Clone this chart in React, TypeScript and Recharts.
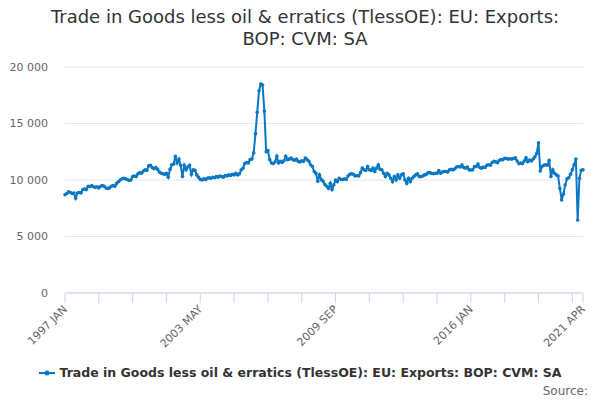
import { LineChart, Line, XAxis, YAxis, CartesianGrid } from 'recharts';

const MONTHS = ['JAN', 'FEB', 'MAR', 'APR', 'MAY', 'JUN', 'JUL', 'AUG', 'SEP', 'OCT', 'NOV', 'DEC'];

const START_YEAR = 1997;

// monthly values, £ million, one row per year (2021 ends at APR)
const exportValues = [
  8700, 8800, 8950, 8900, 8800, 8850, 8380, 8850, 8900, 8850, 9150, 9200,
  9150, 9450, 9400, 9500, 9400, 9350, 9400, 9300, 9450, 9500, 9450, 9300,
  9250, 9300, 9450, 9500, 9450, 9700, 9850, 10000, 10100, 10150, 10100, 10050,
  9950, 10000, 10300, 10350, 10300, 10550, 10650, 10600, 10800, 10900, 10850, 11250,
  11300, 11100, 11000, 11100, 10950, 10700, 10600, 10550, 10500, 10600, 10250, 10950,
  11350, 11400, 12100, 11500, 11850, 11300, 10300, 11300, 10900, 11150, 11300, 10500,
  10900, 10850, 10450, 10250, 10050, 10000, 10100, 10050, 10150, 10200, 10150, 10250,
  10200, 10300, 10250, 10350, 10300, 10250, 10400, 10350, 10450, 10400, 10500, 10450,
  10600, 10450, 10550, 10900, 11050, 11450, 11550, 11500, 11800, 11850, 12400, 14100,
  16000, 17900, 18500, 18400, 16100, 12500, 12600, 11800, 11500, 11450, 11600, 12100,
  11500, 11650, 11550, 11700, 12100, 11800, 11850, 11950, 11800, 11750, 11850, 11650,
  11600, 11700, 11650, 11950, 11800, 11650, 11350, 11200, 10750, 10600, 9880, 10450,
  10030, 9880, 9600, 9450, 9250, 9700, 9150, 9550, 10000, 9850, 10150, 10050,
  10050, 10100, 10050, 10350, 10500, 10550, 10500, 10350, 10400, 10350, 10650, 11050,
  10900, 10850, 11200, 10900, 10850, 11050, 10750, 11050, 11350, 10950, 10900, 10600,
  10300, 10600, 10450, 10150, 9850, 10300, 10000, 10450, 10150, 10450, 10550, 10000,
  9700, 10150, 9850, 10150, 10300, 10450, 10550, 10300, 10300, 10350, 10450, 10500,
  10650, 10650, 10600, 10550, 10600, 10600, 10830, 10600, 10700, 10750, 10750, 10700,
  10900, 10950, 10900, 11000, 11150, 11200, 11150, 11330, 11100, 11050, 11150, 10900,
  10880, 10900, 11180, 11200, 11420, 11100, 11050, 11150, 11100, 11300, 11350, 11300,
  11550, 11650, 11600, 11530, 11750, 11800, 11800, 11920, 11900, 11850, 11880, 11850,
  11900, 11970, 11680, 11450, 11500, 11450, 11680, 11970, 11620, 11770, 11680, 11860,
  12050, 12350, 13300, 10800, 11200, 11300, 11350, 11300, 11750, 10300, 10900, 10600,
  10450, 10350, 9250, 8230, 8750, 9550, 10100, 10200, 10500, 10900, 11350, 11850,
  6450, 10150, 10850, 10900,
];

const yTicks = [0, 5000, 10000, 15000, 20000];
const labelledMonths = ['1997 JAN', '2003 MAY', '2009 SEP', '2016 JAN', '2021 APR'];

const SERIES_NAME = 'Trade in Goods less oil & erratics (TlessOE): EU: Exports: BOP: CVM: SA';
const LINE_COLOR = '#0a78c2';
const FONT = '"DejaVu Sans", Verdana, sans-serif';

const data = exportValues.map((value, i) => ({
  month: `${START_YEAR + Math.floor(i / 12)} ${MONTHS[i % 12]}`,
  value,
}));

// tick every 19 months, plus the last month
const xTicks = data.filter((_, i) => i % 19 === 0).map((d) => d.month);
xTicks.push(data[data.length - 1].month);

const formatThousands = (v: number) => String(v).replace(/\B(?=(\d{3})+(?!\d))/g, ' ');

function MonthTick({ x, y, payload }: { x?: number; y?: number; payload?: { value: string } }) {
  if (!payload || !labelledMonths.includes(payload.value)) return null;
  return (
    <text
      x={x}
      y={y}
      dy={4}
      textAnchor="end"
      transform={`rotate(-45, ${x}, ${y})`}
      fontSize={11}
      fill="#666"
      fontFamily={FONT}
    >
      {payload.value}
    </text>
  );
}

export default function App() {
  return (
    <div style={{ position: 'absolute', left: 0, top: 0, width: 600, height: 400, background: '#fff', fontFamily: FONT }}>
      <div
        style={{
          position: 'absolute',
          top: 6,
          left: 0,
          width: 610,
          textAlign: 'center',
          fontSize: 18,
          lineHeight: '22px',
          color: '#333',
        }}
      >
        Trade in Goods less oil &amp; erratics (TlessOE): EU: Exports:
        <br />
        BOP: CVM: SA
      </div>

      <LineChart width={600} height={400} data={data} margin={{ top: 67, right: 17, bottom: 0, left: 0 }}>
        <CartesianGrid vertical={false} stroke="#e6e6e6" />
        <XAxis
          dataKey="month"
          ticks={xTicks}
          interval={0}
          height={107}
          tick={<MonthTick />}
          tickSize={10}
          tickMargin={4}
          tickLine={{ stroke: '#ccd6eb' }}
          axisLine={{ stroke: '#ccd6eb' }}
        />
        <YAxis
          domain={[0, 20000]}
          ticks={yTicks}
          width={65}
          tickFormatter={formatThousands}
          axisLine={false}
          tickLine={false}
          tickSize={0}
          tickMargin={17}
          tick={{ fontSize: 11, fill: '#666', fontFamily: FONT }}
        />
        <Line
          type="linear"
          dataKey="value"
          stroke={LINE_COLOR}
          strokeWidth={2}
          dot={{ r: 1.8, fill: LINE_COLOR, stroke: LINE_COLOR, strokeWidth: 0 }}
          isAnimationActive={false}
        />
      </LineChart>

      <div
        style={{
          position: 'absolute',
          top: 365,
          left: 0,
          width: 600,
          display: 'flex',
          justifyContent: 'center',
          alignItems: 'center',
          fontSize: 12.5,
          fontWeight: 'bold',
          color: '#333',
        }}
      >
        <svg width={16} height={10} style={{ marginRight: 5 }}>
          <line x1={0} y1={5} x2={16} y2={5} stroke={LINE_COLOR} strokeWidth={2} />
          <circle cx={8} cy={5} r={2.5} fill={LINE_COLOR} />
        </svg>
        {SERIES_NAME}
      </div>

      <div style={{ position: 'absolute', top: 384, right: 12, fontSize: 12, color: '#666' }}>Source:</div>
    </div>
  );
}
